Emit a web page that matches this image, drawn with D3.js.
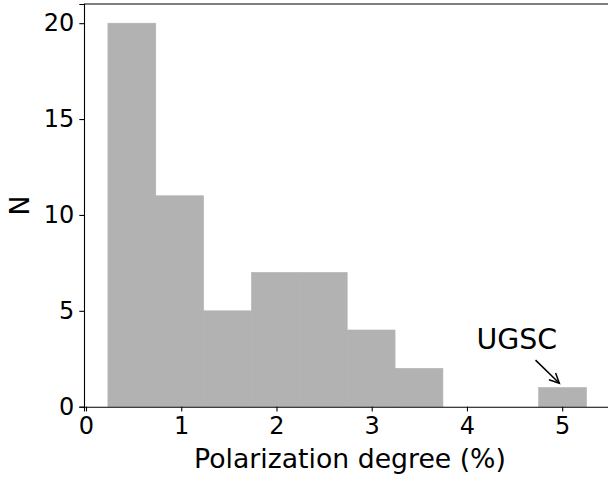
<!DOCTYPE html>
<html>
<head>
<meta charset="utf-8">
<script src="https://d3js.org/d3.v7.min.js"></script>
<style>
  body { margin: 0; background: #fff; }
  text { font-family: "DejaVu Sans", sans-serif; fill: #000; }
</style>
</head>
<body>
<div id="chart"></div>
<script>
// histogram bins (edges) and counts
var binEdges = [0.23, 0.7325, 1.235, 1.7375, 2.24, 2.7425, 3.245, 3.7475, 4.25, 4.7525, 5.255];
var counts = [20, 11, 5, 7, 7, 4, 2, 0, 0, 1];
var xTicks = [0, 1, 2, 3, 4, 5];
var yTicks = [0, 5, 10, 15, 20];
var note = {label: "UGSC", textX: 4.1, textY: 3, fromX: 4.72, fromY: 2.43, toX: 4.97, toY: 1.22};

var bins = counts.map((c, i) => ({x0: binEdges[i], x1: binEdges[i + 1], n: c}));

var W = 608, H = 477;
var margin = {top: 4, left: 84, bottom: H - 406.7, right: W - 610.4};
var width = W - margin.left - margin.right,
    height = H - margin.top - margin.bottom;

var x = d3.scaleLinear().domain([-0.021, 5.506]).range([0, width]);
var y = d3.scaleLinear().domain([0, 21]).range([height, 0]);

var svg = d3.select("#chart").append("svg")
    .attr("width", W)
    .attr("height", H)
  .append("g")
    .attr("transform", `translate(${margin.left}, ${margin.top})`);

// bars (thin stroke of same colour hides seams between neighbours)
svg.selectAll("rect.bar")
    .data(bins.filter(d => d.n > 0)).enter().append("rect")
    .attr("class", "bar")
    .attr("x", d => x(d.x0))
    .attr("width", d => x(d.x1) - x(d.x0))
    .attr("y", d => y(d.n))
    .attr("height", d => y(0) - y(d.n))
    .attr("fill", "#b2b2b2")
    .attr("stroke", "#b2b2b2")
    .attr("stroke-width", 0.6);

// axes
var xAxis = svg.append("g")
    .attr("transform", `translate(0, ${height})`)
    .call(d3.axisBottom(x).tickValues(xTicks).tickFormat(d3.format("d")).tickSize(4.7).tickPadding(6));
var yAxis = svg.append("g")
    .call(d3.axisLeft(y).tickValues(yTicks).tickFormat(d3.format("d")).tickSize(4.7).tickPadding(5));

[xAxis, yAxis].forEach(g => {
    g.select(".domain").attr("stroke", "#000").attr("stroke-width", 1.1);
    g.selectAll(".tick line").attr("stroke", "#000").attr("stroke-width", 1.1);
    g.selectAll(".tick text").attr("font-size", 24).attr("font-family", "DejaVu Sans").attr("fill", "#000");
});

// top spine (right spine falls outside the window)
svg.append("line")
    .attr("x1", 0).attr("x2", width)
    .attr("y1", 0).attr("y2", 0)
    .attr("stroke", "#000").attr("stroke-width", 1.1);

// axis labels
svg.append("text")
    .attr("x", (195 + 505) / 2 - margin.left)
    .attr("y", 468 - margin.top)
    .attr("text-anchor", "middle")
    .attr("font-size", 26.7)
    .text("Polarization degree (%)");

svg.append("text")
    .attr("transform", `translate(${28.5 - margin.left}, ${205.5 - margin.top}) rotate(-90)`)
    .attr("text-anchor", "middle")
    .attr("font-size", 26.7)
    .text("N");

// annotation
svg.append("text")
    .attr("x", x(note.textX))
    .attr("y", y(note.textY))
    .attr("font-size", 28.4)
    .text(note.label);

var x1 = x(note.fromX), y1 = y(note.fromY), x2 = x(note.toX), y2 = y(note.toY);
svg.append("line")
    .attr("x1", x1).attr("y1", y1).attr("x2", x2).attr("y2", y2)
    .attr("stroke", "#000").attr("stroke-width", 1.5);
var ang = Math.atan2(y2 - y1, x2 - x1), hl = 11, spread = 0.45;
svg.append("path")
    .attr("d", d3.line()([
        [x2 - hl * Math.cos(ang - spread), y2 - hl * Math.sin(ang - spread)],
        [x2, y2],
        [x2 - hl * Math.cos(ang + spread), y2 - hl * Math.sin(ang + spread)]
    ]))
    .attr("fill", "none").attr("stroke", "#000").attr("stroke-width", 1.5);
</script>
</body>
</html>
